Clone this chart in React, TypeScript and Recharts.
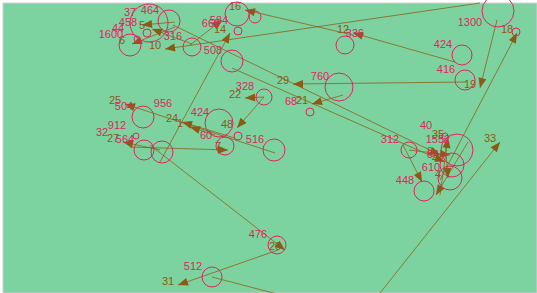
import { ScatterChart, Scatter, XAxis, YAxis, ReferenceLine, ReferenceArea } from 'recharts'

// circles: position, radius, value label (pixel-like units)
const nodeX = [169, 149, 147, 137, 130, 192, 238, 230, 237, 255, 232, 264, 339, 310, 345, 374, 462, 465, 498, 489, 516, 182, 219, 143, 238, 274, 225, 144, 162, 136, 121, 409, 457, 445, 452, 450, 424, 277, 212]
const nodeY = [21, 23, 33, 39, 45, 47, 31, 34, 14, 17, 61, 97, 87, 112, 45, 44, 55, 80, 11, 33, 32, 114, 123, 117, 136, 150, 146, 150, 152, 136, 143, 150, 150, 136, 165, 178, 191, 245, 277]
const nodeR = [11, 19, 4, 3, 11, 9, 4, 0, 12, 6, 11, 8, 14, 4, 9, 0, 10, 10, 16, 0, 4, 0, 14, 11, 4, 11, 9, 10, 11, 3, 0, 8, 16, 3, 12, 12, 10, 9, 10]
const nodeLabel = ['464', '37', '458', '44', '1600', '316', '584', '668', '', '', '508', '328', '760', '68', '', '336', '424', '416', '', '1300', '', '956', '424', '504', '', '516', '60', '564', '', '912', '32', '312', '1552', '40', '84', '610', '448', '476', '512']

// arrows: start, end, label at the arrow head
const fromX = [497, 466, 455, 353, 480, 173, 232, 275, 235, 215, 160, 150, 278, 212, 380, 440, 343, 130, 264, 264, 403, 440, 190, 192, 175, 175, 160, 409, 468, 445]
const fromY = [20, 82, 62, 35, 3, 25, 68, 153, 138, 135, 162, 145, 250, 277, 293, 180, 95, 147, 97, 97, 145, 195, 45, 44, 22, 27, 150, 150, 142, 140]
const toX = [480, 293, 353, 245, 165, 440, 445, 125, 182, 190, 230, 285, 178, 300, 500, 517, 312, 228, 245, 237, 422, 448, 222, 152, 142, 132, 123, 450, 436, 448]
const toY = [88, 84, 33, 10, 49, 155, 162, 104, 122, 127, 33, 250, 285, 300, 142, 33, 104, 150, 98, 128, 182, 138, 20, 29, 25, 44, 142, 155, 195, 178]
const arrowLabel = ['19', '29', '12', '16', '10', '8', '4', '25', '24', '1', '14', '20', '31', '', '33', '18', '21', '7', '22', '48', '', '35', '', '5', '', '6', '27', '', '', '4']

const nodes = nodeX.map((x, i) => ({ x, y: nodeY[i], r: nodeR[i], label: nodeLabel[i] }))
const arrows = fromX.map((x, i) => ({ x1: x, y1: fromY[i], x2: toX[i], y2: toY[i], label: arrowLabel[i] }))

const RED = '#e0245e'
const BROWN = '#8b5a14'

function NodeShape(props: any) {
  const { cx, cy, payload } = props
  return (
    <g>
      {payload.r > 0 && <circle cx={cx} cy={cy} r={payload.r} fill="none" stroke={RED} strokeWidth={1} />}
      {payload.label && (
        <text x={cx - 19} y={cy - 7} textAnchor="middle" fontSize={11} fill={RED} fontFamily="Liberation Sans, Arial, sans-serif">
          {payload.label}
        </text>
      )}
    </g>
  )
}

function ArrowShape(props: any) {
  const { x1, y1, x2, y2, label } = props
  const ang = Math.atan2(y2 - y1, x2 - x1)
  const len = 10
  const w = 4
  const bx = x2 - len * Math.cos(ang)
  const by = y2 - len * Math.sin(ang)
  const px = -Math.sin(ang) * w
  const py = Math.cos(ang) * w
  return (
    <g>
      <line x1={x1} y1={y1} x2={x2} y2={y2} stroke={BROWN} strokeOpacity={0.75} strokeWidth={1} />
      <polygon points={`${x2},${y2} ${bx + px},${by + py} ${bx - px},${by - py}`} fill={BROWN} />
      {label && (
        <text x={x2 - 10} y={y2} textAnchor="middle" fontSize={11} fill={BROWN} fontFamily="Liberation Sans, Arial, sans-serif">
          {label}
        </text>
      )}
    </g>
  )
}

export default function App() {
  return (
    <div style={{ position: 'absolute', left: 0, top: 0, width: 537, height: 293, background: '#fff', overflow: 'hidden' }}>
      <ScatterChart width={537} height={293} margin={{ top: 0, right: 0, bottom: 0, left: 0 }}>
        <XAxis type="number" dataKey="x" domain={[0, 537]} hide />
        <YAxis type="number" dataKey="y" domain={[0, 293]} reversed hide />
        <ReferenceArea x1={3} x2={537} y1={3} y2={293} fill="#7dd3a0" fillOpacity={1} stroke="#d0d0d0" strokeWidth={1} ifOverflow="visible" />
        {arrows.map((a, i) => (
          <ReferenceLine
            key={i}
            segment={[{ x: a.x1, y: a.y1 }, { x: a.x2, y: a.y2 }]}
            ifOverflow="visible"
            shape={(p: any) => <ArrowShape {...p} label={a.label} />}
          />
        ))}
        <Scatter data={nodes} shape={NodeShape} isAnimationActive={false} />
      </ScatterChart>
    </div>
  )
}
